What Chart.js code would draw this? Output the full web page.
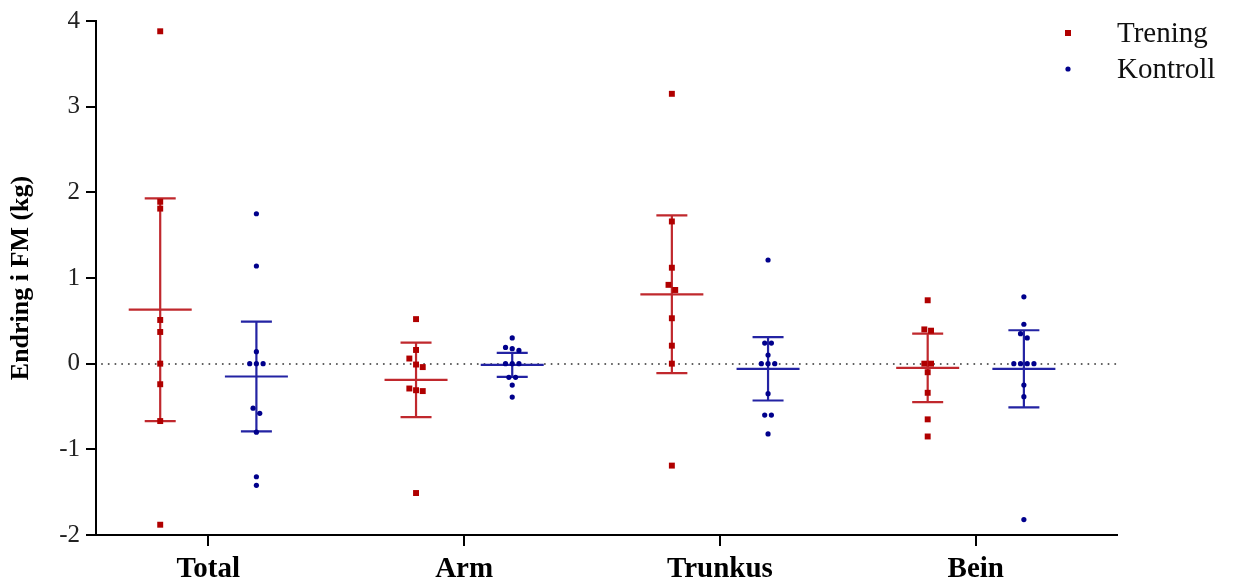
<!DOCTYPE html>
<html>
<head>
<meta charset="utf-8">
<script src="https://cdn.jsdelivr.net/npm/chart.js@4.4.0/dist/chart.umd.min.js"></script>
<style>
html,body{margin:0;padding:0;background:#fff;}
#wrap{width:1235px;height:585px;}
</style>
</head>
<body>
<div id="wrap"><canvas id="c" width="1235" height="585"></canvas></div>
<script>
// ---- data ----
const categories = ['Total', 'Arm', 'Trunkus', 'Bein'];
const yTicks = [-2, -1, 0, 1, 2, 3, 4];

const treningTotal   = [3.88, 1.89, 1.81, 0.51, 0.37, 0.0, -0.24, -0.67, -1.88];
const treningArm     = [0.52, 0.16, 0.06, -0.01, -0.04, -0.29, -0.31, -0.32, -1.51];
const treningTrunkus = [3.15, 1.66, 1.12, 0.92, 0.86, 0.53, 0.21, 0.0, -1.19];
const treningBein    = [0.74, 0.40, 0.385, 0.0, 0.0, -0.10, -0.34, -0.65, -0.85];

const kontrollTotal   = [1.75, 1.14, 0.14, 0.0, 0.0, 0.0, -0.52, -0.58, -0.80, -1.32, -1.42];
const kontrollArm     = [0.30, 0.19, 0.175, 0.155, 0.0, 0.0, 0.0, -0.16, -0.16, -0.25, -0.39];
const kontrollTrunkus = [1.21, 0.24, 0.24, 0.10, 0.0, 0.0, 0.0, -0.35, -0.60, -0.60, -0.82];
const kontrollBein    = [0.78, 0.46, 0.35, 0.30, 0.0, 0.0, 0.0, 0.0, -0.25, -0.385, -1.82];

const treningMean  = [0.63, -0.19, 0.81, -0.05];
const treningCI    = [1.30, 0.435, 0.92, 0.40];
const kontrollMean = [-0.15, -0.015, -0.06, -0.06];
const kontrollCI   = [0.64, 0.14, 0.37, 0.45];

// ---- styling ----
const RED_LINE = '#C0282D', RED_PT = '#B00000';
const BLUE_LINE = '#2323A3', BLUE_PT = '#00008C';
const GROUP_OFFSET = 0.188;   // horizontal offset of each group from the category (data units)
const JITTER_STEP = 0.0262;   // horizontal spread step for coinciding points (data units)
const SERIF = "'Liberation Serif', 'Times New Roman', serif";

const treningGroups = [treningTotal, treningArm, treningTrunkus, treningBein];
const kontrollGroups = [kontrollTotal, kontrollArm, kontrollTrunkus, kontrollBein];

function spreadPoints(vals, center) {
  const order = vals.map((v, i) => i).sort((a, b) => vals[b] - vals[a]);
  const clusters = [];
  let cur = [];
  order.forEach((idx, k) => {
    if (k > 0 && vals[order[k - 1]] - vals[idx] < 0.07) cur.push(idx);
    else { if (cur.length) clusters.push(cur); cur = [idx]; }
  });
  if (cur.length) clusters.push(cur);
  const out = [];
  clusters.forEach(cl => {
    const n = cl.length;
    cl.forEach((idx, k) => out.push({ x: center + (k - (n - 1) / 2) * JITTER_STEP, y: vals[idx] }));
  });
  return out;
}

const treningPts = [], kontrollPts = [];
categories.forEach((c, i) => {
  treningPts.push(...spreadPoints(treningGroups[i], i + 1 - GROUP_OFFSET));
  kontrollPts.push(...spreadPoints(kontrollGroups[i], i + 1 + GROUP_OFFSET));
});

const errorBarPlugin = {
  id: 'errorBars',
  beforeDatasetsDraw(chart) {
    const { ctx, chartArea, scales: { x, y } } = chart;
    // dotted zero line
    ctx.save();
    ctx.strokeStyle = '#555';
    ctx.lineWidth = 2;
    ctx.lineCap = 'round';
    ctx.setLineDash([0.01, 6.7]);
    const y0 = Math.round(y.getPixelForValue(0));
    ctx.beginPath();
    ctx.moveTo(chartArea.left + 6, y0);
    ctx.lineTo(chartArea.right, y0);
    ctx.stroke();
    ctx.restore();

    const series = [
      { mean: treningMean, ci: treningCI, off: -GROUP_OFFSET, color: RED_LINE },
      { mean: kontrollMean, ci: kontrollCI, off: GROUP_OFFSET, color: BLUE_LINE }
    ];
    ctx.save();
    ctx.lineWidth = 2.2;
    series.forEach(s => {
      ctx.strokeStyle = s.color;
      categories.forEach((c, i) => {
        const xc = x.getPixelForValue(i + 1 + s.off);
        const ym = y.getPixelForValue(s.mean[i]);
        const yt = y.getPixelForValue(s.mean[i] + s.ci[i]);
        const yb = y.getPixelForValue(s.mean[i] - s.ci[i]);
        ctx.beginPath();
        ctx.moveTo(xc, yt); ctx.lineTo(xc, yb);
        ctx.moveTo(xc - 15.5, yt); ctx.lineTo(xc + 15.5, yt);
        ctx.moveTo(xc - 15.5, yb); ctx.lineTo(xc + 15.5, yb);
        ctx.moveTo(xc - 31.5, ym); ctx.lineTo(xc + 31.5, ym);
        ctx.stroke();
      });
    });
    ctx.restore();
  },
  afterDraw(chart) {
    const { ctx } = chart;
    const items = [
      { label: 'Trening', color: RED_PT, style: 'rect', y: 33 },
      { label: 'Kontroll', color: BLUE_PT, style: 'circle', y: 69 }
    ];
    ctx.save();
    ctx.font = '29px ' + SERIF;
    ctx.textBaseline = 'middle';
    ctx.textAlign = 'left';
    items.forEach(it => {
      ctx.fillStyle = it.color;
      if (it.style === 'rect') ctx.fillRect(1065, it.y - 3, 6, 6);
      else { ctx.beginPath(); ctx.arc(1068, it.y, 2.6, 0, Math.PI * 2); ctx.fill(); }
      ctx.fillStyle = '#111';
      ctx.fillText(it.label, 1117, it.y + 1);
    });
    ctx.restore();
  }
};

new Chart(document.getElementById('c'), {
  type: 'scatter',
  data: {
    datasets: [
      { label: 'Trening', data: treningPts, pointStyle: 'rect', pointRadius: 4.2, pointHoverRadius: 4.2,
        backgroundColor: RED_PT, borderColor: RED_PT, borderWidth: 0 },
      { label: 'Kontroll', data: kontrollPts, pointStyle: 'circle', pointRadius: 2.6, pointHoverRadius: 2.6,
        backgroundColor: BLUE_PT, borderColor: BLUE_PT, borderWidth: 0 }
    ]
  },
  options: {
    responsive: false,
    animation: false,
    devicePixelRatio: 1,
    layout: { padding: { top: 21, right: 118, left: 0, bottom: 0 } },
    plugins: { legend: { display: false }, tooltip: { enabled: false } },
    scales: {
      x: {
        type: 'linear',
        min: 0.561, max: 4.552,
        afterBuildTicks(scale) { scale.ticks = categories.map((c, i) => ({ value: i + 1 })); },
        afterFit(scale) { scale.height = 50; },
        ticks: {
          callback: (v) => categories[Math.round(v) - 1],
          color: '#000',
          font: { family: SERIF, size: 29, weight: 'bold' },
          padding: 6,
          maxRotation: 0, autoSkip: false
        },
        grid: { drawOnChartArea: false, drawTicks: true, tickLength: 11, color: '#000', lineWidth: 2 },
        border: { display: true, color: '#000', width: 2 }
      },
      y: {
        type: 'linear',
        min: yTicks[0], max: yTicks[yTicks.length - 1],
        afterBuildTicks(scale) { scale.ticks = yTicks.map(v => ({ value: v })); },
        afterFit(scale) { scale.width = 96; },
        ticks: {
          color: '#222',
          font: { family: SERIF, size: 25 },
          padding: 6
        },
        grid: { drawOnChartArea: false, drawTicks: true, tickLength: 10, color: '#000', lineWidth: 2 },
        border: { display: true, color: '#000', width: 2 },
        title: {
          display: true, text: 'Endring i FM (kg)', color: '#000',
          font: { family: SERIF, size: 26, weight: 'bold' },
          padding: { top: 6, bottom: 0 }
        }
      }
    }
  },
  plugins: [errorBarPlugin]
});
</script>
</body>
</html>
